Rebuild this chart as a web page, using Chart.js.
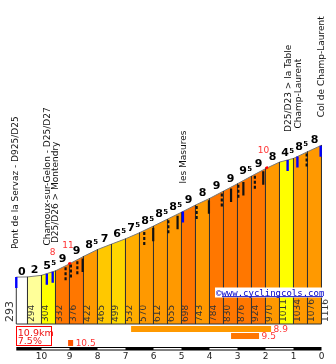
<!DOCTYPE html>
<html><head><meta charset="utf-8">
<script src="https://cdn.jsdelivr.net/npm/chart.js@4.4.1/dist/chart.umd.min.js"></script>
<style>html,body{margin:0;padding:0;background:#fff;}canvas{display:block;}</style>
</head><body>
<canvas id="c" width="336" height="364"></canvas>
<script>
// ---- data ----
const kmPoints  = [10.9,10.5,10,9.5,9,8.5,8,7.5,7,6.5,6,5.5,5,4.5,4,3.5,3,2.5,2,1.5,1,0.5,0];
const altitudes = [293,294,304,332,376,422,465,499,532,570,612,655,698,743,784,830,876,924,970,1011,1034,1076,1116];
const grades    = [0,2,5.5,9,9,8.5,7,6.5,7.5,8.5,8.5,8.5,9,8,9,9,9.5,9,8,4.5,8.5,8];
const kmTicks   = [10,9,8,7,6,5,4,3,2,1,0];
const placeKm    = [10.95,9.8,9.53,4.95,1.2,0.85,0];
const placeNames = ['Pont de la Servaz - D925/D25','Chamoux-sur-Gelon - D25/D27','D25/D26 > Montendry','les Masures','D25/D23 > la Table','Champ-Laurent','Col de Champ-Laurent'];
const blueKm     = [10.9,9.81,9.6,4.95,1.21,0.86,0.03];
const steepKm    = [9.14,8.95,8.72,8.53,6.33,6.01,5.47,5.14,4.46,4.02,3.56,3.23,2.97,2.79,2.38,2.08,0.53];
const steepDash  = [1,1,1,0,1,0,1,0,1,0,1,0,1,0,1,0,1];
const maxKm      = [9.6,9.05,2.07];
const maxGrade   = [8,11,10];
const redSegFrom = [9.04,2.0];
const redSegTo   = [8.95,1.91];
const bestFrom   = [6.8,3.23,9.05];
const bestTo     = [1.8,2.23,8.87];
const bestGrade  = [8.9,9.5,10.5];
const totalKm = 10.9, avgGrade = 7.5;

// ---- scale ranges ----
const X_MIN = -0.518, X_MAX = 11.482;
const Y_MIN = -169.8, Y_MAX = 2023.4;
const M = 6.245; // metres per pixel (approx)

function gradeColor(g){
  if (g < 1) return '#ffffff';
  if (g < 3) return '#ffff99';
  if (g < 6) return '#ffff00';
  if (g < 7) return '#ffd700';
  if (g < 7.5) return '#ffc800';
  if (g < 8) return '#ffae00';
  if (g < 9) return '#ff9900';
  if (g < 10) return '#ff7700';
  return '#ff5500';
}
function altAt(km){
  for (let i=0;i<kmPoints.length-1;i++){
    const a=kmPoints[i], b=kmPoints[i+1];
    if (km<=a && km>=b) return altitudes[i]+(altitudes[i+1]-altitudes[i])*(a-km)/(a-b);
  }
  return km>kmPoints[0]?altitudes[0]:altitudes[altitudes.length-1];
}

const datasets = [];
// column polygons
grades.forEach((g,i)=>{
  datasets.push({
    data:[{x:kmPoints[i],y:0},{x:kmPoints[i],y:altitudes[i]},{x:kmPoints[i+1],y:altitudes[i+1]},{x:kmPoints[i+1],y:0}],
    backgroundColor:gradeColor(g), borderColor:'#333', borderWidth:1,
    fill:{target:{value:0}}, pointRadius:0, order:10, tension:0,
    segment:{borderColor:c=> c.p0.parsed.x===c.p1.parsed.x ? '#333' : '#7a7a7a'}
  });
});
// base line
datasets.push({data:[{x:kmPoints[0],y:0},{x:0,y:0}],borderColor:'#333',borderWidth:1,pointRadius:0,fill:false,order:5});
// blue markers
const blueData=[]; blueKm.forEach(k=>{const a=altAt(k); blueData.push({x:k,y:a},{x:k,y:a-11*M},{x:k,y:null});});
datasets.push({data:blueData,borderColor:'#0000ff',borderWidth:2.4,pointRadius:0,fill:false,spanGaps:false,order:2,borderCapStyle:'butt'});
// steep marks
const solidData=[], dashData=[];
steepKm.forEach((k,i)=>{const a=altAt(k); const arr=steepDash[i]?dashData:solidData; arr.push({x:k,y:a-1.5*M},{x:k,y:a-15*M},{x:k,y:null});});
datasets.push({data:solidData,borderColor:'#111',borderWidth:2.2,pointRadius:0,fill:false,spanGaps:false,order:3,borderCapStyle:'butt'});
datasets.push({data:dashData,borderColor:'#111',borderWidth:2.2,borderDash:[3,2],pointRadius:0,fill:false,spanGaps:false,order:3,borderCapStyle:'butt'});
// red max segments
const redData=[]; redSegFrom.forEach((k,i)=>{redData.push({x:k,y:altAt(k)+0.3*M},{x:redSegTo[i],y:altAt(redSegTo[i])+0.3*M},{x:k,y:null});});
datasets.push({data:redData,borderColor:'#ff0000',borderWidth:2.5,pointRadius:0,fill:false,spanGaps:false,order:1});

function drawRotated(ctx,text,x,y,font,color){
  ctx.save(); ctx.translate(x,y); ctx.rotate(-Math.PI/2);
  ctx.font=font; ctx.fillStyle=color; ctx.textAlign='left'; ctx.textBaseline='alphabetic';
  ctx.fillText(text,0,0); ctx.restore();
}

const decor = {
  id:'decor',
  afterDraw(chart){
    const ctx=chart.ctx, xs=chart.scales.x, ys=chart.scales.y;
    const px=k=>xs.getPixelForValue(k), py=a=>ys.getPixelForValue(a);
    ctx.save();
    // altitude labels
    altitudes.forEach((a,i)=>{
      const x=px(kmPoints[i]);
      if(i===0) drawRotated(ctx,String(a),x-2.8,322,'11px "DejaVu Sans"','#333');
      else drawRotated(ctx,String(a),x+6.3,322,'9px "DejaVu Sans"','#333');
    });
    // grade labels
    grades.forEach((g,i)=>{
      const cx=(px(kmPoints[i])+px(kmPoints[i+1]))/2;
      const by=py(Math.max(altitudes[i],altitudes[i+1]))-2;
      const main=String(Math.floor(g)); const half=(g%1)!==0;
      ctx.font='bold 11px "DejaVu Sans"'; const wm=ctx.measureText(main).width;
      ctx.font='bold 7px "DejaVu Sans"'; const ws=half?ctx.measureText('5').width:0;
      const sx=cx-(wm+ws)/2+(half?1:0);
      ctx.fillStyle='#000'; ctx.textBaseline='alphabetic'; ctx.textAlign='left';
      ctx.font='bold 11px "DejaVu Sans"'; ctx.fillText(main,sx,by);
      if(half){ctx.font='bold 7px "DejaVu Sans"'; ctx.fillText('5',sx+wm+0.3,by-3.5);}
    });
    // max grade labels
    ctx.font='9px "DejaVu Sans"'; ctx.fillStyle='#ff3333'; ctx.textAlign='center';
    maxKm.forEach((k,i)=>{ctx.fillText(String(maxGrade[i]),px(k),py(altAt(k))-17);});
    // place names
    placeKm.forEach((k,i)=>{
      drawRotated(ctx,placeNames[i],px(k)+3,py(altAt(k))-28,'9px "DejaVu Sans"','#111');
    });
    // watermark
    ctx.fillStyle='#fff'; ctx.fillRect(215,287.5,109,10);
    ctx.font='9px "DejaVu Sans Mono"'; ctx.fillStyle='#0000cc'; ctx.textAlign='left';
    ctx.fillText('\u00a9www.cyclingcols.com',216,295.5);
    ctx.fillRect(222,296.2,101,0.9);
    // summary box
    const bx=px(kmPoints[0]);
    ctx.strokeStyle='#ff0000'; ctx.lineWidth=1; ctx.strokeRect(Math.round(bx)+0.5,326.5,35,19);
    ctx.fillStyle='#ee1111'; ctx.font='9.5px "DejaVu Sans"';
    ctx.fillText(totalKm+'km',bx+1.5,335.5);
    ctx.fillText(avgGrade+'%',bx+1.5,344);
    // best sections
    bestFrom.forEach((k,i)=>{
      const x0=px(k), x1=px(bestTo[i]); const y0=326+i*7;
      ctx.fillStyle=gradeColor(bestGrade[i]); ctx.fillRect(x0,y0,x1-x0,6);
      ctx.fillStyle='#ff3333'; ctx.font='9px "DejaVu Sans"'; ctx.fillText(String(bestGrade[i]),x1+2.5,y0+6);
    });
    // km scale bar
    const xa=px(kmPoints[0]), xb=px(0);
    ctx.fillStyle='#000'; ctx.fillRect(xa,347,xb-xa,3.5);
    ctx.fillStyle='#fff';
    for(let k=10;k>0;k-=2){ const x0=px(k), x1=px(k-1); ctx.fillRect(x0,348,x1-x0,1.5); }
    ctx.restore();
  }
};

new Chart(document.getElementById('c'),{
  type:'line',
  data:{datasets},
  options:{
    responsive:false, animation:false, devicePixelRatio:1,
    layout:{padding:{left:0,right:0,top:0,bottom:2}},
    plugins:{legend:{display:false},tooltip:{enabled:false}},
    elements:{line:{tension:0}},
    scales:{
      x:{type:'linear',reverse:true,min:X_MIN,max:X_MAX,
         grid:{display:false,drawTicks:false},border:{display:false},
         afterBuildTicks:s=>{s.ticks=kmTicks.map(v=>({value:v}));},
         ticks:{font:{family:'DejaVu Sans',size:9},color:'#222',padding:0,maxRotation:0,autoSkip:false}},
      y:{display:false,min:Y_MIN,max:Y_MAX}
    }
  },
  plugins:[decor]
});
</script>
</body></html>
